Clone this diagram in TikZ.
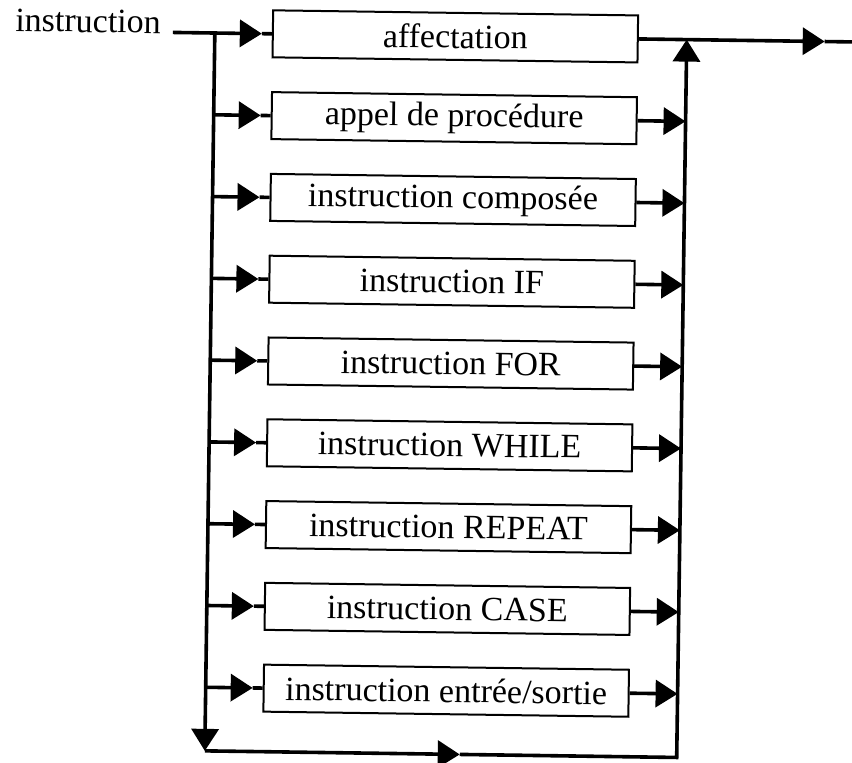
\documentclass[tikz,border=0pt]{standalone}
\usepackage{fontspec}
\setmainfont{Liberation Serif}
\usetikzlibrary{arrows.meta}
\begin{document}
\begin{tikzpicture}[x=0.5pt,y=-0.5pt,
  txt/.style={font=\fontsize{17}{20}\selectfont},
  box/.style={txt,draw,line width=1pt,minimum width=182.5pt,minimum height=23.5pt,inner sep=0pt},
  wire/.style={line width=1.8pt},
  tip/.style={wire,-{Triangle[length=11pt,width=13.5pt]}},
]
\useasboundingbox[fill=white] (0,0) rectangle (852,763);
\begin{scope}[rotate around={-0.8:(426,381)}, transform shape]
  \node[txt,anchor=base west,inner sep=0pt] (lab) at (10,37) {instruction};
  \coordinate (s0) at (168,36);
  \foreach \i/\y/\t in {1/36/{affectation},
                        2/117.8/{appel de procédure},
                        3/199.6/{instruction composée},
                        4/281.4/{instruction IF},
                        5/363.2/{instruction FOR},
                        6/445/{instruction WHILE},
                        7/526.8/{instruction REPEAT},
                        8/608.6/{instruction CASE},
                        9/690.4/{instruction entrée/sortie}}{
    \node[box] (b\i) at (450.5,\y) {\t};
    \coordinate (L\i) at (210,\y);
    \coordinate (A\i) at (257,\y);
    \coordinate (R\i) at (682,\y);
  }
  \coordinate (Lb) at (210,754);
  \coordinate (Bm) at (465,754);
  \coordinate (Rb) at (682,754);
  \coordinate (E1) at (820,36);
  \coordinate (Eend) at (870,36);
  % entry
  \draw[tip] (s0) -- (A1);
  \draw[wire] (A1) -- (b1.west);
  % left rail
  \draw[tip] (L1) -- (Lb);
  \foreach \i in {2,...,9}{
    \draw[tip] (L\i) -- (A\i);
    \draw[wire] (A\i) -- (b\i.west);
    \draw[tip] (b\i.east) -- (R\i);
  }
  % bypass and right rail
  \draw[tip] (Lb) -- (Bm);
  \draw[tip] (Bm) -- (Rb) -- (R1);
  % exit
  \draw[tip] (b1.east) -- (E1);
  \draw[wire] (E1) -- (Eend);
\end{scope}
\end{tikzpicture}
\end{document}
